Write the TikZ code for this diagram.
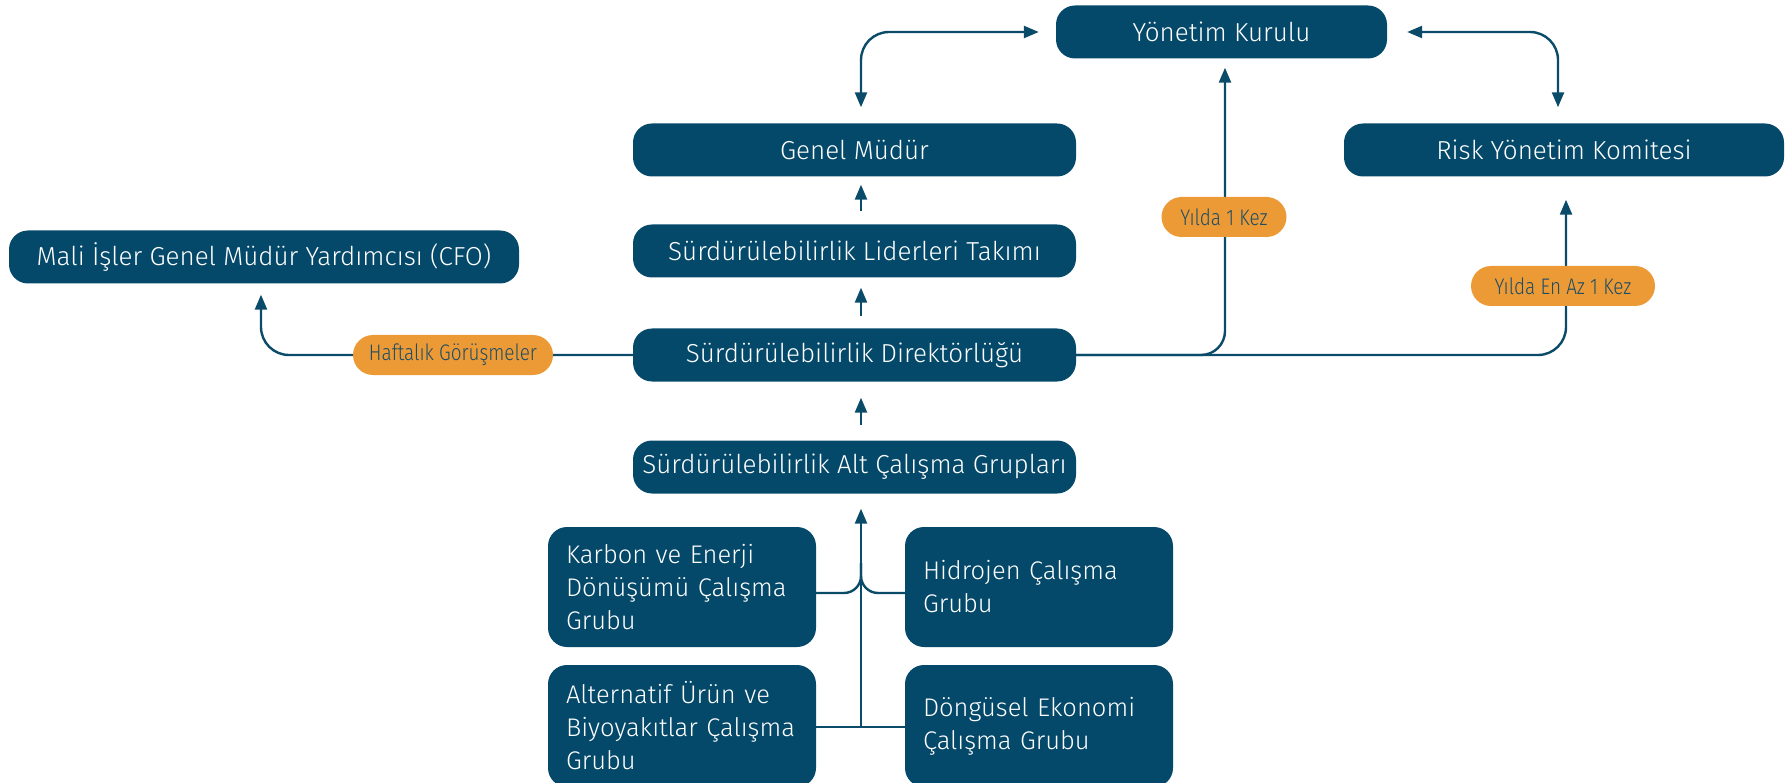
\documentclass[tikz,border=0pt]{standalone}
\usepackage{fontspec}
\setmainfont{Fira Sans Light}
\newfontfamily\lblfont[FakeStretch=0.84]{Fira Sans Light}
\usetikzlibrary{arrows.meta,positioning,calc}
\definecolor{boxblue}{RGB}{4,73,106}
\definecolor{lineblue}{RGB}{10,75,105}
\definecolor{orng}{RGB}{236,154,54}
\definecolor{lbltext}{RGB}{30,77,102}
\begin{document}
\begin{tikzpicture}[x=1pt,y=-1pt,
  box/.style={fill=boxblue,text=white,rounded corners=19pt,minimum height=53pt,inner sep=0pt,font=\fontsize{26}{30}\selectfont},
  grp/.style={fill=boxblue,text=white,rounded corners=19pt,minimum height=120pt,text width=232pt,inner xsep=18pt,inner ysep=0pt,align=left,font=\fontsize{25.5}{33}\selectfont},
  tag/.style={fill=orng,text=lbltext,rounded corners=20pt,minimum height=40pt,inner sep=0pt,font=\lblfont\fontsize{22.5}{24}\selectfont},
  conn/.style={draw=lineblue,line width=2.4pt},
  arr/.style={conn,-{Triangle[length=15pt,width=12pt]}},
  arrb/.style={conn,{Triangle[length=15pt,width=12pt]}-{Triangle[length=15pt,width=12pt]}}]
\useasboundingbox (0,0) rectangle (1785,783);
% boxes
\node[box,minimum width=331pt] (yk) at (1221.5,32) {Yönetim Kurulu};
\node[box,minimum width=443pt] (gm) at (854.5,150) {Genel Müdür};
\node[box,minimum width=440pt] (rk) at (1564,150) {Risk Yönetim Komitesi};
\node[box,minimum width=443pt] (sl) at (854.5,251) {Sürdürülebilirlik Liderleri Takımı};
\node[box,minimum width=510pt] (cfo) at (264,257) {Mali İşler Genel Müdür Yardımcısı (CFO)};
\node[box,minimum width=443pt] (sd) at (854.5,355) {Sürdürülebilirlik Direktörlüğü};
\node[box,minimum width=443pt] (alt) at (854.5,467) {Sürdürülebilirlik Alt Çalışma Grupları};
\node[grp] (kar) at (682,587) {Karbon ve Enerji\\Dönüşümü Çalışma\\Grubu};
\node[grp] (hid) at (1039,587) {Hidrojen Çalışma\\Grubu};
\node[grp,minimum height=122pt] (alf) at (682,726) {Alternatif Ürün ve\\Biyoyakıtlar Çalışma\\Grubu};
\node[grp,minimum height=122pt] (don) at (1039,726) {Döngüsel Ekonomi\\Çalışma Grubu};
% axis coordinates
\coordinate (ax) at (861,0);
\coordinate (ykx) at (1225,0);
\coordinate (rkx) at (1566,0);
\coordinate (cfx) at (261,0);
% vertical stack arrows
\draw[arr] ($(ax |- sl.north)+(0,-13)$) -- ($(ax |- gm.south)+(0,8)$);
\draw[arr] ($(ax |- sd.north)+(0,-12)$) -- ($(ax |- sl.south)+(0,10)$);
\draw[arr] ($(ax |- alt.north)+(0,-15)$) -- ($(ax |- sd.south)+(0,16)$);
% board double arrows
\draw[arrb,rounded corners=28pt] ($(yk.west)+(-17,0)$) -| ($(ax |- gm.north)+(0,-16)$);
\draw[arrb,rounded corners=28pt] ($(yk.east)+(20,0)$) -| ($(1558,0 |- rk.north)+(0,-16)$);
% from directorate
\draw[arr,rounded corners=24pt] (sd.east) -| ($(ykx |- yk.south)+(0,9)$);
\draw[arr,rounded corners=28pt] (sd.east) -| ($(rkx |- rk.south)+(0,23)$);
\draw[arr,rounded corners=28pt] (sd.west) -| ($(cfx |- cfo.south)+(0,11)$);
% tags
\node[tag,minimum width=125pt] (t1) at (1224,217) {Yılda 1 Kez};
\node[tag,minimum width=184pt] (t2) at (1563,286) {Yılda En Az 1 Kez};
\node[tag,minimum width=200pt] (t3) at (453,355) {Haftalık Görüşmeler};
% working groups
\coordinate (kj) at (ax |- 0,593);
\coordinate (aj) at (ax |- 0,727);
\draw[arr] (aj) -- ($(ax |- alt.south)+(0,15)$);
\draw[conn,rounded corners=17pt] (kar.east |- kj) -- (kj) -- ($(kj)+(0,-30)$);
\draw[conn,rounded corners=17pt] (hid.west |- kj) -- (kj) -- ($(kj)+(0,-30)$);
\draw[conn] (alf.east |- aj) -- (don.west |- aj);
\end{tikzpicture}
\end{document}
